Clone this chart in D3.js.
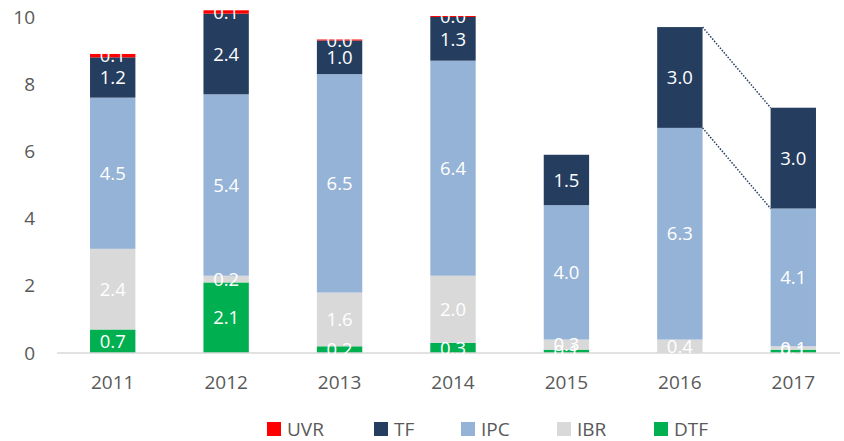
<!DOCTYPE html>
<html>
<head>
<meta charset="utf-8">
<script src="https://cdn.jsdelivr.net/npm/d3@7"></script>
<style>
  body { margin: 0; background: #fff; }
  svg text { font-family: "Open Sans", "Noto Sans", sans-serif; }
</style>
</head>
<body>
<svg id="chart" width="844" height="441"></svg>
<script>
// data
const years = ["2011", "2012", "2013", "2014", "2015", "2016", "2017"];
const series = ["DTF", "IBR", "IPC", "TF", "UVR"];
const DTF = [0.7, 2.1, 0.2, 0.3, 0.1, 0, 0.1];
const IBR = [2.4, 0.2, 1.6, 2.0, 0.3, 0.4, 0.1];
const IPC = [4.5, 5.4, 6.5, 6.4, 4.0, 6.3, 4.1];
const TF  = [1.2, 2.4, 1.0, 1.3, 1.5, 3.0, 3.0];
const UVR = [0.1, 0.1, 0.03, 0.03, 0, 0, 0];
const yTicks = [0, 2, 4, 6, 8, 10];
const legendOrder = ["UVR", "TF", "IPC", "IBR", "DTF"];

const colors = {
  UVR: "#ff0000",
  TF: "#253e5f",
  IPC: "#95b3d7",
  IBR: "#d9d9d9",
  DTF: "#00b050"
};

const values = { DTF, IBR, IPC, TF, UVR };
const rows = years.map((y, i) => {
  const r = { year: y };
  series.forEach(s => r[s] = values[s][i]);
  return r;
});

const svg = d3.select("#chart");

const x = d3.scaleBand(years, [56, 850]).paddingInner(0.6).paddingOuter(0.3);
const y = d3.scaleLinear([0, 10], [353, 17]);

const stacked = d3.stack().keys(series)(rows);

// y axis labels (no line)
svg.append("g")
  .attr("transform", "translate(35,0)")
  .call(d3.axisLeft(y).tickValues(yTicks).tickSize(0).tickPadding(0))
  .call(g => g.select(".domain").remove())
  .call(g => g.selectAll("text")
    .attr("fill", "#595959")
    .attr("font-size", 19)
    .attr("font-family", "'Open Sans', sans-serif"));

// bars
const layer = svg.append("g").selectAll("g")
  .data(stacked)
  .join("g")
  .attr("fill", d => colors[d.key]);

layer.selectAll("rect")
  .data(d => d.filter(p => p[1] - p[0] > 0))
  .join("rect")
  .attr("x", d => x(d.data.year))
  .attr("width", x.bandwidth())
  .attr("y", d => y(d[1]))
  .attr("height", d => y(d[0]) - y(d[1]));

// baseline
svg.append("line")
  .attr("x1", 57).attr("x2", 840)
  .attr("y1", y(0)).attr("y2", y(0))
  .attr("stroke", "#d9d9d9")
  .attr("stroke-width", 1.5);

// dotted connectors between 2016 and 2017
const i16 = years.indexOf("2016"), i17 = years.indexOf("2017");
const tfLayer = stacked.find(s => s.key === "TF");
[1, 0].forEach(k => {
  svg.append("line")
    .attr("x1", x("2016") + x.bandwidth())
    .attr("y1", y(tfLayer[i16][k]))
    .attr("x2", x("2017"))
    .attr("y2", y(tfLayer[i17][k]))
    .attr("stroke", colors.TF)
    .attr("stroke-width", 1.5)
    .attr("stroke-dasharray", "1.5,1.5");
});

// value labels
stacked.forEach(s => {
  svg.append("g").selectAll("text")
    .data(s.filter(p => p[1] - p[0] > 0))
    .join("text")
    .attr("x", d => x(d.data.year) + x.bandwidth() / 2)
    .attr("y", d => y((d[0] + d[1]) / 2))
    .attr("dy", "0.36em")
    .attr("text-anchor", "middle")
    .attr("fill", "#ffffff")
    .attr("font-size", 18.5)
    .text(d => d3.format(".1f")(d[1] - d[0]));
});

// x axis labels
svg.append("g")
  .attr("transform", `translate(0,${y(0)})`)
  .call(d3.axisBottom(x).tickSize(0).tickPadding(23))
  .call(g => g.select(".domain").remove())
  .call(g => g.selectAll("text")
    .attr("fill", "#595959")
    .attr("font-size", 19)
    .attr("font-family", "'Open Sans', sans-serif"));

// legend
const legendX = [267, 374, 461, 557, 654];
const legend = svg.append("g").selectAll("g")
  .data(legendOrder)
  .join("g")
  .attr("transform", (d, i) => `translate(${legendX[i]},422)`);
legend.append("rect")
  .attr("width", 14).attr("height", 14)
  .attr("fill", d => colors[d]);
legend.append("text")
  .attr("x", 20).attr("y", 7)
  .attr("dy", "0.36em")
  .attr("fill", "#595959")
  .attr("font-size", 19)
  .text(d => d);
</script>
</body>
</html>
